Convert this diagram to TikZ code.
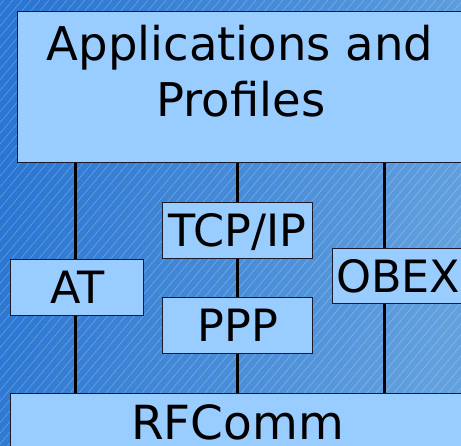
\documentclass[tikz,border=0pt]{standalone}
\usepackage{fontspec}
\setmainfont{DejaVu Sans}
\pgfdeclarelayer{bg}
\pgfdeclarelayer{wires}
\pgfsetlayers{bg,wires,main}
\definecolor{deskleft}{HTML}{2A76D2}
\definecolor{deskright}{HTML}{62A0DE}
\definecolor{layerfill}{HTML}{99CCFF}
\definecolor{layeredge}{HTML}{1A1A2A}
\tikzset{
  stackbox/.style={draw=layeredge, line width=1.3pt, fill=layerfill, inner sep=0pt,
    anchor=north west},
  smalltext/.style={font=\fontsize{44.5}{50}\selectfont, text height=32.4pt, text depth=0pt},
  bigtext/.style={font=\fontsize{46.5}{56}\selectfont, anchor=base},
  bus/.style={line width=3pt, black},
  hatch/.style={white, opacity=0.3, line width=0.5pt}
}
\begin{document}
\begin{tikzpicture}[x=1pt,y=1pt]
\useasboundingbox (0,0) rectangle (461,446);
\clip (0,0) rectangle (461,446);

% backdrop: shaded blue with fine diagonal hatching
\begin{pgfonlayer}{bg}
  \shade[left color=deskleft, right color=deskright, shading angle=80] (0,0) rectangle (461,446);
  \foreach \k in {-60,...,60}
    \draw[hatch] (\k*9-10,-10) -- ++(456*0.84,456);
\end{pgfonlayer}

% protocol layers
\node[stackbox, minimum width=446pt, minimum height=151pt] (apps) at (17,435) {};
\node[bigtext] (appsA) at (240,385) {Applications and};
\node[bigtext] (appsB) at (241,329) {Profiles};

\node[stackbox, smalltext, minimum width=133pt, minimum height=56pt] (at) at (10,187) {AT};
\node[stackbox, smalltext, minimum width=150pt, minimum height=56pt] (tcpip) at (162,244) {TCP/IP};
\node[stackbox, smalltext, minimum width=150pt, minimum height=56pt] (ppp) at (162,149) {PPP};
\node[stackbox, smalltext, minimum width=131pt, minimum height=55pt] (obex) at (332,198) {OBEX};
\node[stackbox, minimum width=470pt, minimum height=70pt] (rfcomm) at (10,53) {};
\node[font=\fontsize{47}{56}\selectfont, anchor=base] (rftext) at (237.5,6) {RFComm};

% vertical links between the layers
\begin{pgfonlayer}{wires}
  \draw[bus] (apps.south -| 75,0) -- (rfcomm.north -| 75,0);
  \draw[bus] (apps.south -| tcpip.center) -- (rfcomm.north -| tcpip.center);
  \draw[bus] (apps.south -| 384,0) -- (rfcomm.north -| 384,0);
\end{pgfonlayer}
\end{tikzpicture}
\end{document}
